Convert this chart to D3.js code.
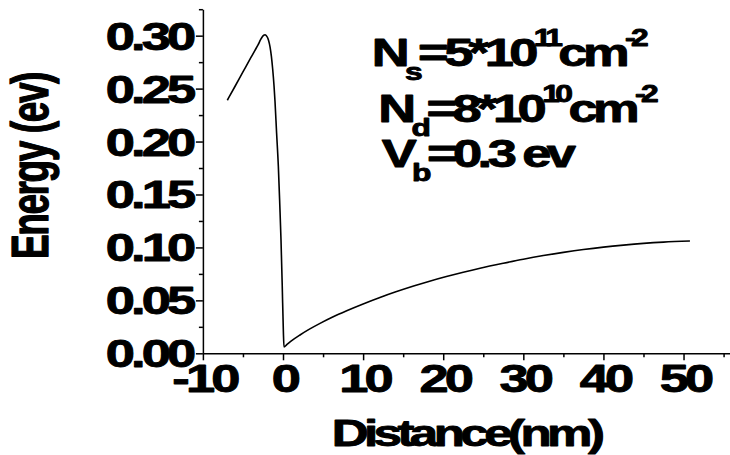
<!DOCTYPE html>
<html>
<head>
<meta charset="utf-8">
<script src="https://cdn.jsdelivr.net/npm/d3@7"></script>
<style>
  body { margin: 0; background: #fff; }
  svg { display: block; }
</style>
</head>
<body>
<svg id="chart" width="730" height="455"></svg>
<script>
// Conduction-band energy profile across the barrier / channel
const distance = [-6.95, -6.0, -5.0, -4.0, -3.5, -3.1, -2.8, -2.6, -2.4, -2.25, -2.1, -1.95, -1.8, -1.62, -1.45,
  -1.29, -1.12, -1.0, -0.8, -0.58, -0.4, -0.25, -0.1, 0.04, 0.12, 0.5, 1.0, 2.12, 3.3, 4.62, 6.2, 7.95,
  10, 12.1, 14, 16.3, 18.3, 20.4, 22.5, 24.6, 27.5, 30, 32.5, 35, 37.5, 40, 42.5, 45, 47.5, 50.8];
const energy = [0.239, 0.252, 0.2657, 0.2794, 0.2862, 0.2915, 0.2962, 0.2988, 0.3004, 0.3008, 0.3002, 0.2985, 0.2955, 0.2895, 0.2805,
  0.2685, 0.2525, 0.238, 0.208, 0.1763, 0.140, 0.107, 0.065, 0.022, 0.006, 0.0085, 0.0115, 0.0173, 0.0228, 0.0283, 0.0343, 0.0402,
  0.0466, 0.0527, 0.0578, 0.0635, 0.0681, 0.0725, 0.0766, 0.0804, 0.0851, 0.0889, 0.0923, 0.0953, 0.0980, 0.1003, 0.1022, 0.1038, 0.1050, 0.1060];

const xTicks = [-10, 0, 10, 20, 30, 40, 50];
const xMinorTicks = [-5, 5, 15, 25, 35, 45, 55];
const xTickLabels = ["-10", "0", "10", "20", "30", "40", "50"];
const yTicks = [0, 0.05, 0.10, 0.15, 0.20, 0.25, 0.30];
const yMinorTicks = [0.025, 0.075, 0.125, 0.175, 0.225, 0.275, 0.325];
const yTickLabels = ["0.00", "0.05", "0.10", "0.15", "0.20", "0.25", "0.30"];

const xTitle = "Distance(nm)";
const yTitle = "Energy (ev)";

// Parameter block: [text, role] pieces per line
const noteLines = [
  [["N", ""], ["s", "sub"], ["=5*10", ""], ["11", "sup"], ["cm", ""], ["-2", "sup"]],
  [["N", ""], ["d", "sub"], ["=8*10", ""], ["10", "sup"], ["cm", ""], ["-2", "sup"]],
  [["V", ""], ["b", "sub"], ["=0.3 ev", ""]]
];

const FONT = '"Liberation Sans", Arial, Helvetica, sans-serif';
const SX = 1.38;       // horizontal stretch of the lettering
const LS = -2.8;       // tight letter spacing

const svg = d3.select("#chart");

const x = d3.scaleLinear().domain([-10, 56]).range([202.9, 731.6]);
const y = d3.scaleLinear().domain([0, 0.325]).range([353.3, 9.2]);

function styleText(sel, size, ls) {
  sel.attr("font-family", FONT)
     .attr("font-weight", "bold")
     .attr("font-size", size)
     .attr("letter-spacing", ls)
     .attr("fill", "#000")
     .attr("stroke", "#000")
     .attr("stroke-width", 0.9)
     .attr("stroke-linejoin", "round");
}

// ---- Y axis ----
const gy = svg.append("g").attr("transform", `translate(${x(-10)},0)`)
  .call(d3.axisLeft(y).tickValues(yTicks).tickSize(7).tickSizeOuter(0)
    .tickFormat((d, i) => yTickLabels[i]));
svg.append("g").attr("transform", `translate(${x(-10)},0)`)
  .call(d3.axisLeft(y).tickValues(yMinorTicks).tickSize(4).tickFormat(""))
  .call(g => g.select(".domain").remove());

gy.selectAll(".tick text")
  .attr("x", null).attr("dy", null)
  .attr("text-anchor", "end")
  .attr("transform", `translate(-10.5,13.5) scale(${SX},1)`)
  .call(styleText, 38, LS);

// ---- X axis ----
const gx = svg.append("g").attr("transform", `translate(0,${y(0)})`)
  .call(d3.axisBottom(x).tickValues(xTicks).tickSize(7).tickSizeOuter(0)
    .tickFormat((d, i) => xTickLabels[i]));
svg.append("g").attr("transform", `translate(0,${y(0)})`)
  .call(d3.axisBottom(x).tickValues(xMinorTicks).tickSize(4).tickFormat(""))
  .call(g => g.select(".domain").remove());

gx.selectAll(".tick text")
  .attr("y", null).attr("dy", null)
  .attr("text-anchor", "middle")
  .attr("transform", `translate(1,38.5) scale(${SX},1)`)
  .call(styleText, 38, LS);

svg.selectAll(".domain, .tick line").attr("stroke", "#000").attr("stroke-width", 1.5);

// ---- Axis titles ----
svg.append("text")
  .attr("text-anchor", "middle")
  .attr("transform", `translate(466,446) scale(${SX},1)`)
  .call(styleText, 37, -3.3)
  .text(xTitle);

svg.append("text")
  .attr("text-anchor", "middle")
  .attr("transform", `translate(48,166) scale(${SX},1) rotate(-90)`)
  .call(styleText, 37, -1.4)
  .text(yTitle);

// ---- Energy curve ----
const pts = distance.map((d, i) => [d, energy[i]]);
svg.append("path")
  .datum(pts)
  .attr("fill", "none")
  .attr("stroke", "#000")
  .attr("stroke-width", 1.6)
  .attr("stroke-linejoin", "round")
  .attr("d", d3.line().x(d => x(d[0])).y(d => y(d[1])).curve(d3.curveMonotoneX));

// ---- Parameter block ----
const notePos = [[371.7, 65.7], [378.3, 121.7], [381.7, 166.7]];
noteLines.forEach((parts, li) => {
  const t = svg.append("text")
    .attr("transform", `translate(${notePos[li][0]},${notePos[li][1]}) scale(${SX},1)`)
    .call(styleText, 38, -3.3);
  let shift = 0;
  parts.forEach(([str, role]) => {
    const target = role === "sub" ? 14.5 : role === "sup" ? -20 : 0;
    t.append("tspan")
      .attr("dy", target - shift)
      .attr("font-size", role ? 23 : 38)
      .text(str);
    shift = target;
  });
});
</script>
</body>
</html>
